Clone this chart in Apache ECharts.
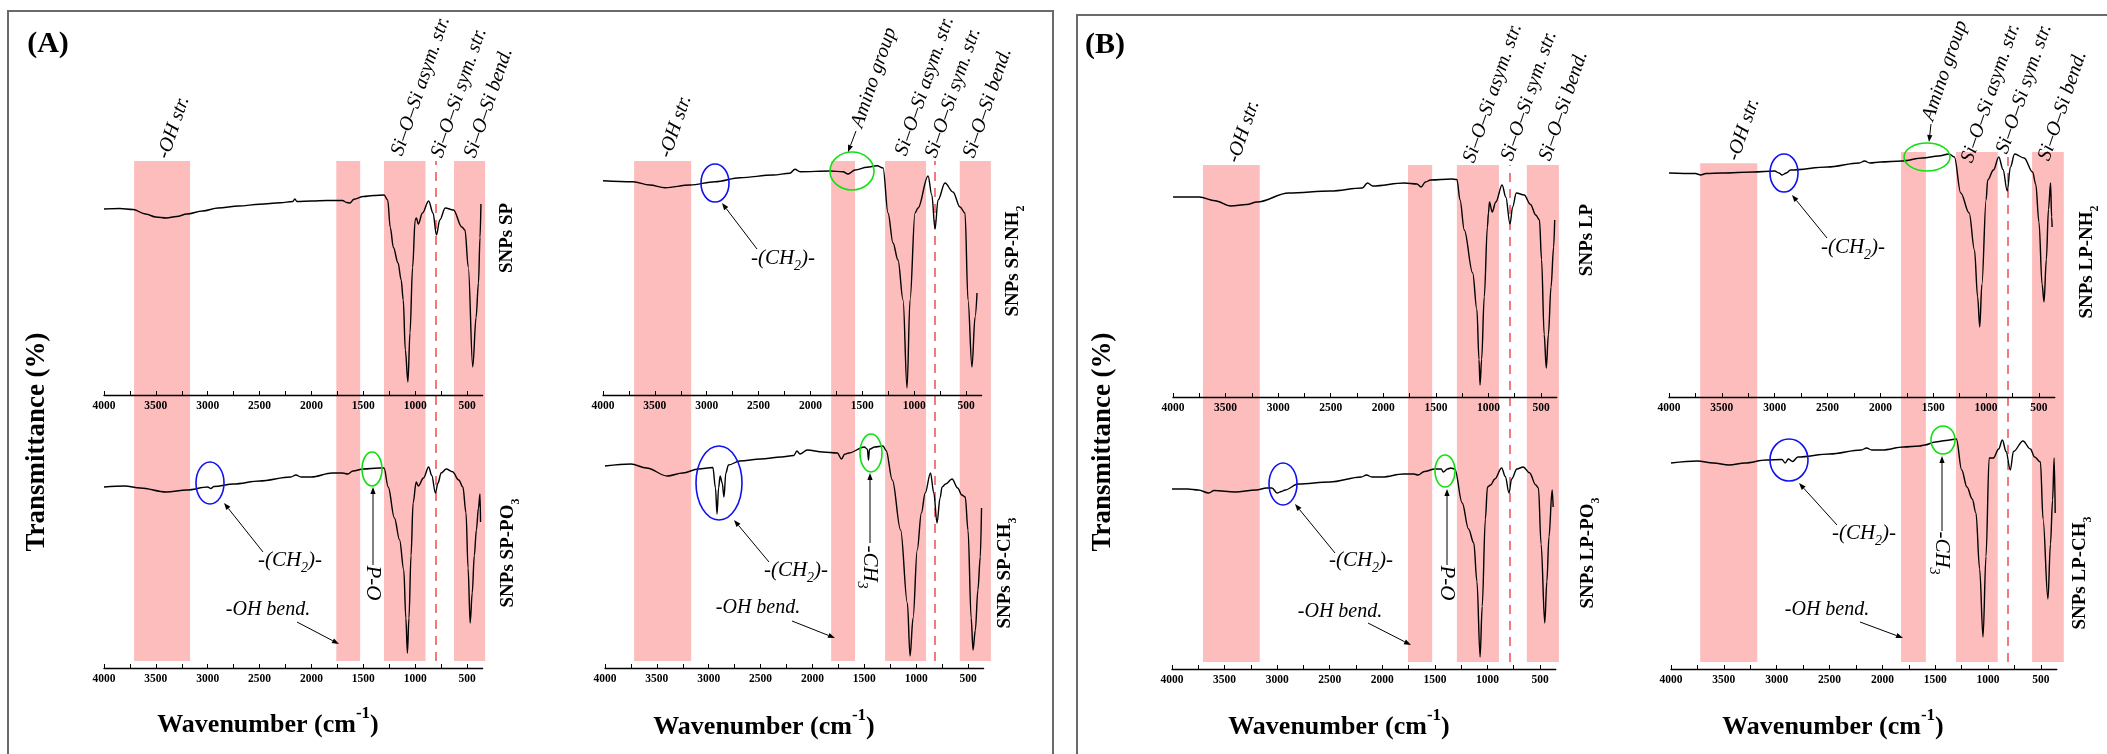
<!DOCTYPE html>
<html><head><meta charset="utf-8">
<script src="https://cdn.jsdelivr.net/npm/echarts@6/dist/echarts.min.js"></script>
<style>html,body{margin:0;padding:0;background:#fff}#c{width:2107px;height:754px}</style>
</head><body><div id="c"></div>
<script>
// ---------- DATA (wavenumber cm-1, transmittance a.u. %) ----------
const SP = [[4000,74.4],[3850,74.6],[3720,74.2],[3600,72.4],[3500,71.2],[3400,70.8],[3300,71.4],[3200,72.4],[3050,73.6],[2900,74.8],[2700,75.6],[2500,76.3],[2300,76.9],[2180,77.4],[2160,78.4],[2140,77.4],[2000,77.6],[1850,77.8],[1700,77.8],[1660,77.0],[1630,76.8],[1590,78.3],[1500,79.4],[1400,79.8],[1300,80.0],[1265,78.0],[1240,67],[1210,59],[1165,52.8],[1135,46],[1115,38],[1095,18],[1070,5.2],[1050,24.8],[1025,51],[1000,70],[988,70.8],[970,68.4],[930,72.8],[870,77.6],[828,72.8],[795,64],[763,70],[710,74.8],[631,74],[550,67.2],[520,66],[488,51.2],[445,11.2],[413,31],[390,44.8],[375,63],[366,76.4]];
const SP_NH2 = [[4000,85.7],[3711,85.3],[3550,84],[3402,82.9],[3161,84],[2920,85.3],[2679,86.9],[2360,88],[2199,88.7],[2149,90.3],[2100,89.3],[1811,89.6],[1686,89.3],[1638,88.4],[1570,90],[1455,91.1],[1358,91.7],[1300,90.8],[1252,72.8],[1204,60.8],[1156,54],[1107,38],[1069,2.8],[1040,38],[992,72.8],[963,74.8],[866,87.6],[830,80],[799,66.4],[770,78],[703,84.8],[626,81.2],[558,75.2],[510,72.8],[481,38],[443,11.2],[413,31.2],[394,40.8]];
const SP_PO3 = [[4000,72.4],[3800,72.8],[3650,72],[3400,70.4],[3200,71.2],[3000,72.4],[2970,71.8],[2940,72.6],[2750,73.6],[2500,74.8],[2200,76.4],[2150,77.2],[2100,76.4],[2000,76.4],[1800,78],[1700,78],[1650,77.6],[1600,78.8],[1500,79.6],[1350,80],[1300,80],[1260,72.4],[1200,60],[1150,51.2],[1110,39.2],[1090,20],[1075,6],[1060,20],[1040,45],[1020,66],[990,74.4],[970,72.8],[920,76],[870,80.4],[840,77],[805,70],[780,74],[750,78],[700,79.6],[640,78.5],[580,75.2],[540,72.4],[510,62],[490,40],[470,18],[450,30],[430,45],[410,55.2],[390,64],[375,69.6],[370,58.4]];
const SP_CH3 = [[4000,80.8],[3750,81.6],[3600,80],[3400,76.8],[3250,78],[3100,79.6],[2960,80.2],[2935,72],[2920,61.6],[2905,72],[2890,76.8],[2870,74],[2853,68.4],[2835,78],[2810,81.2],[2700,82.8],[2500,83.6],[2300,84.4],[2180,85],[2150,86.8],[2120,85.6],[2050,87.2],[1900,86.4],[1760,86],[1720,83.6],[1690,85.5],[1650,86],[1500,88.4],[1470,87.5],[1460,83.2],[1450,87.5],[1400,88.4],[1320,88.8],[1290,87],[1230,75.2],[1150,55.2],[1085,26],[1059,4.8],[1030,20],[990,47.2],[950,62],[913,70],[862,78],[830,70],[799,58],[770,68],[750,72.4],[716,73.6],[654,75.6],[600,72],[560,69.2],[527,68.4],[500,55],[470,20],[452,7.2],[430,15],[405,31.2],[382,44.4],[370,64]];
const LP = [[4000,80],[3750,80],[3600,78.5],[3450,76.4],[3300,77],[3200,78],[2900,81.6],[2500,82.4],[2200,83.6],[2150,85.6],[2100,84.4],[1800,85.6],[1680,85.2],[1640,84],[1600,86],[1550,86.8],[1350,87.2],[1300,87],[1270,78.8],[1230,66.8],[1150,49.6],[1110,35],[1090,15],[1080,4.8],[1065,15],[1040,40],[1010,68],[1000,73.6],[990,78],[965,74],[930,78],[870,84.8],[835,80],[795,69.2],[770,76],[735,81.6],[660,80.8],[600,77],[550,72.8],[515,70.8],[495,55],[470,25],[450,11.6],[430,25],[405,44],[380,60],[370,70.8]];
const LP_NH2 = [[4000,89.6],[3750,89.4],[3700,88.8],[3650,89.4],[3500,89.6],[3200,90],[3000,90.4],[2960,89.6],[2930,88.8],[2890,89.6],[2850,90.8],[2500,92],[2200,93.6],[2150,94.4],[2100,93.6],[2000,94],[1800,94.4],[1600,95.6],[1450,96.4],[1350,97.2],[1300,96],[1240,81.6],[1160,73.6],[1110,58.8],[1080,40],[1060,28],[1040,45],[1000,78.8],[985,86.8],[930,90.8],[880,96],[840,91],[800,82.4],[770,92],[730,97.2],[640,95.6],[560,90],[530,85],[500,70],[470,45],[452,38],[430,55],[410,75],[390,85.6],[380,72],[375,68]];
const LP_PO3 = [[4000,72],[3850,72],[3750,71.6],[3650,70.4],[3600,71.4],[3400,70.8],[3200,71.6],[3100,72.4],[3050,72.4],[3000,70.4],[2960,71],[2925,71.6],[2800,74],[2500,74.8],[2200,76.8],[2150,77.6],[2100,76.8],[2000,76.8],[1800,78],[1700,78],[1660,77.6],[1600,79],[1500,80],[1440,80],[1420,78.8],[1380,80],[1350,80.4],[1310,80],[1240,66.4],[1180,56],[1130,50.4],[1100,35],[1070,4.8],[1050,25],[1020,60],[1000,72.8],[970,73.6],[930,76],[865,80.4],[830,77],[795,70.4],[770,76],[720,80],[660,80.8],[600,78.5],[540,73.6],[515,72.4],[490,50],[455,18.4],[435,35],[415,52.8],[385,71.6],[375,64.8]];
const LP_CH3 = [[4000,82.4],[3750,83.2],[3600,82.4],[3450,81.6],[3300,82.4],[3100,83.6],[2950,83.8],[2920,82.4],[2890,84],[2850,83],[2800,84.8],[2500,86],[2200,87.6],[2150,88.4],[2100,87.6],[2000,87.6],[1800,88.8],[1650,89.2],[1600,89.6],[1500,90.8],[1400,91.4],[1300,92],[1250,79.6],[1200,72.8],[1150,68],[1115,62.4],[1080,40],[1048,12.8],[1020,45],[990,84.4],[950,84.4],[900,88],[865,91.6],[830,87],[790,79.6],[760,87],[670,91.2],[600,88],[560,84.8],[505,82.8],[480,60],[434,28],[410,50],[390,67.6],[375,84.4],[365,62.4]];

// shaded assignment bands [from, to] (cm-1) per panel column
const bandsAL = [[3710,3170],[1760,1530],[1300,900],[625,325]];
const bandsAR = [[3700,3150],[1800,1570],[1280,885],[560,260]];
const bandsBL = [[3715,3175],[1765,1535],[1300,900],[635,330]];
const bandsBR = [[3705,3165,0.978],[1805,1570],[1285,890],[565,265]];
const symStretch = 800; // Si-O-Si sym. str. marker line

const labelVals = [4000,3500,3000,2500,2000,1500,1000,500];
const tickVals = [4000,3750,3500,3250,3000,2750,2500,2250,2000,1750,1500,1250,1000,750,500];

// ---------- LAYOUT ----------
const FONT = '"Liberation Serif","Times New Roman",serif';
const spectra = [
  {data: SP,     grid:{left:104,  top:145, width:378.6, height:250}},
  {data: SP_PO3, grid:{left:104,  top:418, width:378.6, height:250}},
  {data: SP_NH2, grid:{left:603,  top:145, width:378.6, height:250}},
  {data: SP_CH3, grid:{left:605,  top:418, width:378.6, height:250}},
  {data: LP,     grid:{left:1173, top:147, width:383.8, height:250}},
  {data: LP_PO3, grid:{left:1172, top:419, width:383.8, height:250}},
  {data: LP_NH2, grid:{left:1669, top:147, width:385.8, height:250}},
  {data: LP_CH3, grid:{left:1671, top:419, width:385.8, height:250}}
];
const bandCols = [
  {bands: bandsAL, grid:{left:104,  top:161, width:388.9, height:500}},
  {bands: bandsAR, grid:{left:603,  top:161, width:388.9, height:500}},
  {bands: bandsBL, grid:{left:1173, top:165, width:394.3, height:497}},
  {bands: bandsBR, grid:{left:1669, top:152, width:396.4, height:510}}
];

const grids = [], xAxes = [], yAxes = [], series = [];
spectra.forEach((s, i) => {
  grids.push(s.grid);
  xAxes.push({gridIndex:i, type:'value', inverse:true, min:350, max:4000, z:10,
    axisLine:{show:true, onZero:false, lineStyle:{color:'#000', width:1.3}},
    axisTick:{show:true, inside:true, customValues:tickVals, length:4, lineStyle:{color:'#000', width:1}},
    axisLabel:{customValues:labelVals, formatter:v => String(v), color:'#000', fontFamily:FONT, fontWeight:'bold', fontSize:11.5, margin:5},
    splitLine:{show:false}});
  yAxes.push({gridIndex:i, type:'value', min:0, max:100, show:false});
  series.push({type:'line', xAxisIndex:i, yAxisIndex:i, data:s.data, showSymbol:false, silent:true,
    smooth:0.35, smoothMonotone:'x', z:5, lineStyle:{color:'#000', width:1.4}});
});
bandCols.forEach((b, j) => {
  const i = spectra.length + j;
  grids.push(b.grid);
  xAxes.push({gridIndex:i, type:'value', inverse:true, min:250, max:4000, show:false});
  yAxes.push({gridIndex:i, type:'value', min:0, max:1, show:false});
  series.push({type:'line', xAxisIndex:i, yAxisIndex:i, data:[[4000,5]], showSymbol:false, silent:true, z:1,
    lineStyle:{opacity:0},
    markArea:{silent:true, itemStyle:{color:'#FDBDBD'},
      data: b.bands.map(r => [{xAxis:r[0], yAxis:0}, {xAxis:r[1], yAxis:(r[2]!==undefined? r[2]:1)}])},
    markLine:{silent:true, symbol:'none', label:{show:false}, animation:false,
      lineStyle:{color:'#F27A7A', type:[9,7], width:2}, data:[{xAxis:symStretch}]}});
});

// ---------- ANNOTATIONS ----------
function rich(size, weight, style) {
  const base = {fontSize:size, fontWeight:weight, fontStyle:style, fontFamily:FONT, color:'#000'};
  return {
    n: Object.assign({}, base, {lineHeight:size*1.5}),
    s: Object.assign({}, base, {fontSize:Math.round(size*0.65), verticalAlign:'bottom', lineHeight:Math.round(size*0.7)}),
    p: Object.assign({}, base, {fontSize:Math.round(size*0.65), verticalAlign:'top', lineHeight:Math.round(size*0.7)})
  };
}
function txt(x, y, text, o) {
  o = o || {};
  const size = o.size || 20, weight = o.bold ? 'bold' : 'normal', st = o.italic ? 'italic' : 'normal';
  const al = o.align || 'center';
  return {type:'text', x:x, y:y, rotation:(o.rot||0)*Math.PI/180, z:30, silent:true,
    style:{text:text, fill:'#000', fontSize:size, fontWeight:weight, fontStyle:st, fontFamily:FONT,
      align:al, textAlign:al, verticalAlign:'middle', textVerticalAlign:'middle', rich:rich(size, weight, st)}};
}
function arrow(x1, y1, x2, y2) {
  const a = Math.atan2(y2-y1, x2-x1), L = 7, W = 2.6;
  const bx = x2 - L*Math.cos(a), by = y2 - L*Math.sin(a);
  const px = -Math.sin(a)*W, py = Math.cos(a)*W;
  return [
    {type:'line', z:30, silent:true, shape:{x1:x1, y1:y1, x2:bx, y2:by}, style:{stroke:'#000', lineWidth:1}},
    {type:'polygon', z:30, silent:true, shape:{points:[[x2,y2],[bx+px,by+py],[bx-px,by-py]]}, style:{fill:'#000'}}
  ];
}
function ell(cx, cy, rx, ry, color) {
  return {type:'ellipse', z:30, silent:true, shape:{cx:cx, cy:cy, rx:rx, ry:ry}, style:{fill:'none', stroke:color, lineWidth:1.6}};
}
const BLUE = '#1010F0', GREEN = '#10E010';
const ROT = 71;
const ital = (x, y, t) => txt(x, y, '{n|' + t + '}', {italic:true, size:20, rot:ROT, align:'left'});
const ch2 = '{n|-(CH}{s|2}{n|)-}';
const wav = '{n|Wavenumber (cm}{p|-1}{n|)}';

const G = [];
// panel frames
G.push({type:'rect', z:25, silent:true, shape:{x:8, y:11, width:1045, height:760}, style:{fill:'none', stroke:'#6a6a6a', lineWidth:2}});
G.push({type:'rect', z:25, silent:true, shape:{x:1077, y:15, width:1045, height:760}, style:{fill:'none', stroke:'#6a6a6a', lineWidth:2}});
// panel letters and axis titles
G.push(txt(48, 44, '(A)', {bold:true, size:30}));
G.push(txt(1105, 45, '(B)', {bold:true, size:30}));
G.push(txt(37, 442, 'Transmittance (%)', {bold:true, size:27, rot:90}));
G.push(txt(1103, 442, 'Transmittance (%)', {bold:true, size:27, rot:90}));
[[268,725],[764,727],[1339,727],[1833,727]].forEach(p => G.push(txt(p[0], p[1], wav, {bold:true, size:26})));

// top band labels
const siLabels = (a, s, b) => [ital(a[0], a[1], 'Si–O–Si asym. str.'), ital(s[0], s[1], 'Si–O–Si sym. str.'), ital(b[0], b[1], 'Si–O–Si bend.')];
G.push(ital(163, 158, '-OH str.'), ...siLabels([397,155],[437,157],[470,157]));
G.push(ital(665, 157, '-OH str.'), ital(857, 127, 'Amino group'), ...siLabels([901,155],[931,157],[969,157]));
G.push(ital(1233, 162, '-OH str.'), ...siLabels([1469,162],[1507,160],[1545,160]));
G.push(ital(1733, 160, '-OH str.'), ital(1928, 120, 'Amino group'), ...siLabels([1967,162],[2002,153],[2044,160]));

// sample names
const nm = (x, y, t) => txt(x, y, t, {bold:true, size:19, rot:90});
G.push(nm(507, 238, '{n|SNPs SP}'), nm(508, 553, '{n|SNPs SP-PO}{s|3}'), nm(1013, 261, '{n|SNPs SP-NH}{s|2}'), nm(1005, 573, '{n|SNPs SP-CH}{s|3}'));
G.push(nm(1587, 240, '{n|SNPs LP}'), nm(1588, 553, '{n|SNPs LP-PO}{s|3}'), nm(2087, 262, '{n|SNPs LP-NH}{s|2}'), nm(2080, 573, '{n|SNPs LP-CH}{s|3}'));

// A top-right
G.push(ell(715, 183, 14, 19, BLUE), ell(852, 171, 22, 19, GREEN));
G.push(txt(783, 258, ch2, {italic:true, size:21}), ...arrow(757, 249, 722, 203), ...arrow(856, 131, 848, 152));
// A bottom-left
G.push(ell(210, 483, 14, 21, BLUE), ell(372, 469, 10, 17, GREEN));
G.push(txt(290, 560, ch2, {italic:true, size:21}), ...arrow(263, 552, 224, 503));
G.push(txt(373, 583, '{n|P-O}', {italic:true, size:21, rot:-90}), ...arrow(373, 565, 373, 487));
G.push(txt(268, 610, '{n|-OH bend.}', {italic:true, size:20}), ...arrow(297, 622, 339, 644));
// A bottom-right
G.push(ell(719, 483, 23, 37, BLUE), ell(871, 453, 11, 19, GREEN));
G.push(txt(796, 570, ch2, {italic:true, size:21}), ...arrow(769, 562, 734, 520));
G.push(txt(870, 567, '{n|-CH}{s|3}', {italic:true, size:21, rot:-90}), ...arrow(870, 543, 870, 473));
G.push(txt(758, 608, '{n|-OH bend.}', {italic:true, size:20}), ...arrow(792, 621, 835, 638));
// B top-right
G.push(ell(1784, 173, 14, 19, BLUE), ell(1927, 157, 23, 14, GREEN));
G.push(txt(1853, 247, ch2, {italic:true, size:21}), ...arrow(1827, 238, 1792, 195), ...arrow(1931, 124, 1929, 142));
// B bottom-left
G.push(ell(1283, 484, 14, 21, BLUE), ell(1445, 471, 10, 16, GREEN));
G.push(txt(1361, 560, ch2, {italic:true, size:21}), ...arrow(1335, 553, 1295, 504));
G.push(txt(1447, 583, '{n|P-O}', {italic:true, size:21, rot:-90}), ...arrow(1447, 565, 1447, 489));
G.push(txt(1340, 612, '{n|-OH bend.}', {italic:true, size:20}), ...arrow(1368, 623, 1411, 645));
// B bottom-right
G.push(ell(1789, 460, 19, 21, BLUE), ell(1943, 440, 12, 14, GREEN));
G.push(txt(1864, 533, ch2, {italic:true, size:21}), ...arrow(1837, 525, 1799, 483));
G.push(txt(1942, 553, '{n|-CH}{s|3}', {italic:true, size:21, rot:-90}), ...arrow(1942, 531, 1942, 456));
G.push(txt(1827, 610, '{n|-OH bend.}', {italic:true, size:20}), ...arrow(1860, 622, 1903, 638));

const chart = echarts.init(document.getElementById('c'), null, {renderer:'canvas'});
chart.setOption({
  backgroundColor:'#fff', animation:false,
  grid: grids, xAxis: xAxes, yAxis: yAxes, series: series, graphic: {elements: G}
});
</script></body></html>
